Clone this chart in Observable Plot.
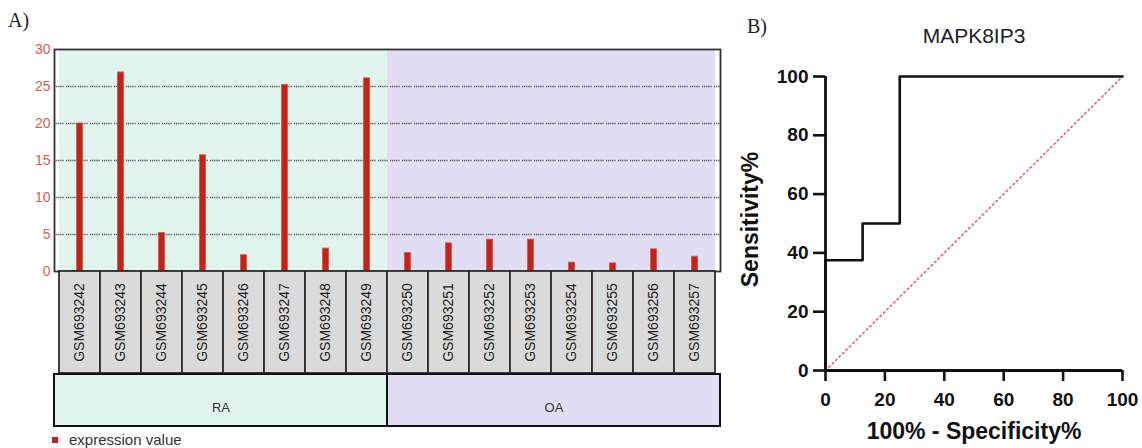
<!DOCTYPE html>
<html><head><meta charset="utf-8">
<script src="https://cdn.jsdelivr.net/npm/d3@7"></script>
<script src="https://cdn.jsdelivr.net/npm/@observablehq/plot@0.6"></script>
<style>
body{margin:0;background:#fff;}
#wrap{position:relative;width:1142px;height:448px;overflow:hidden;font-family:Arial,"Liberation Sans",sans-serif;}
#wrap > *{position:absolute;}
.panel{font-family:"Liberation Serif","DejaVu Serif",serif;font-size:20px;color:#222;}
</style></head><body><div id="wrap"></div>
<script>
// ---- Data: panel A ----
const samples = ["GSM693242","GSM693243","GSM693244","GSM693245","GSM693246","GSM693247","GSM693248","GSM693249",
                 "GSM693250","GSM693251","GSM693252","GSM693253","GSM693254","GSM693255","GSM693256","GSM693257"];
const values = [20.0, 26.9, 5.2, 15.7, 2.2, 25.2, 3.1, 26.1,
                2.5, 3.8, 4.3, 4.3, 1.2, 1.1, 3.0, 2.0];
const sampleGroups = ["RA","RA","RA","RA","RA","RA","RA","RA","OA","OA","OA","OA","OA","OA","OA","OA"];
const groupNames = ["RA","OA"];
const groupColors = ["#e2f4ee","#e1def4"];
const yTicks = [0,5,10,15,20,25,30];
const gridTicks = [5,10,15,20,25];
const legendLabel = "expression value";
// ---- Data: panel B ----
const rocTitle = "MAPK8IP3";
const rocFPR = [0, 0, 12.5, 12.5, 25, 25, 100];
const rocTPR = [0, 37.5, 37.5, 50, 50, 100, 100];
const diagX = [0, 100];
const diagY = [0, 100];
const rocTicks = [0,20,40,60,80,100];
const xTitle = "100% - Specificity%";
const yTitle = "Sensitivity%";

const rows = samples.map((s,i)=>({sample:s, value:values[i], group:sampleGroups[i]}));
const colorOf = g => groupColors[groupNames.indexOf(g)];
const wrap = document.getElementById("wrap");
const barRed = "#c1241b";
const sans = "Arial, 'Liberation Sans', sans-serif";

function place(el, left, top){ el.style.left = left+"px"; el.style.top = top+"px"; wrap.appendChild(el); return el; }

// Main bar chart
const main = Plot.plot({
  width: 730, height: 272,
  marginLeft: 54, marginRight: 10, marginTop: 49, marginBottom: 1,
  style: {fontFamily: sans, fontSize: "14px", color: "#d4604e", background: "transparent", overflow: "visible"},
  x: {domain: samples, padding: 0, axis: null},
  y: {domain: [0,30]},
  marks: [
    Plot.cell(rows, {x: "sample", fill: d => colorOf(d.group), inset: 0}),
    Plot.ruleY(gridTicks, {stroke: "#555", strokeWidth: 1.3, strokeDasharray: "1.2,0.9,1.2,0.9,1.2,0.9,1.2,0.9,1.2,2.4"}),
    Plot.barY(rows, {x: "sample", y: "value", fill: barRed, stroke: "#e2533f", strokeWidth: 0.8, insetLeft: 17.5, insetRight: 17.5}),
    Plot.axisY({ticks: yTicks, tickSize: 0, tickPadding: 4, label: null}),
    Plot.frame({stroke: "#333", strokeWidth: 1.8})
  ]
});
place(main, 0, 0);

// Sample label row
const labelsRow = Plot.plot({
  width: 730, height: 103,
  marginLeft: 54, marginRight: 10, marginTop: 0, marginBottom: 1,
  style: {fontFamily: sans, fontSize: "14px", background: "transparent", overflow: "visible"},
  x: {domain: samples, padding: 0, axis: null},
  marks: [
    Plot.cell(rows, {x: "sample", fill: "#dadada", stroke: "#2e2e2e", strokeWidth: 1.8, inset: 0}),
    Plot.text(rows, {x: "sample", text: "sample", rotate: -90, frameAnchor: "middle", fill: "#222", fontSize: 14})
  ]
});
place(labelsRow, 0, 271);

// Group row
const groupRows = groupNames.map((g,i)=>({group:g, color:groupColors[i]}));
const groupRow = Plot.plot({
  width: 730, height: 54,
  marginLeft: 54, marginRight: 10, marginTop: 1, marginBottom: 1,
  style: {fontFamily: sans, fontSize: "13px", background: "transparent", overflow: "visible"},
  x: {domain: groupNames, padding: 0, axis: null},
  marks: [
    Plot.cell(groupRows, {x: "group", fill: "color", stroke: "#111", strokeWidth: 2, inset: 0}),
    Plot.text(groupRows, {x: "group", text: "group", frameAnchor: "middle", dy: 7, fill: "#333", fontSize: 13})
  ]
});
place(groupRow, 0, 373);

// Legend
const leg = document.createElement("div");
leg.style.cssText = "font-size:15px;color:#333;display:flex;align-items:center;gap:11px;line-height:16px;";
leg.innerHTML = `<span style="display:inline-block;width:6px;height:6px;background:${barRed}"></span><span>${legendLabel}</span>`;
place(leg, 52, 432);

// Panel labels
const la = document.createElement("div"); la.className = "panel"; la.textContent = "A)"; place(la, 8, 9);
const lb = document.createElement("div"); lb.className = "panel"; lb.textContent = "B)"; place(lb, 747, 15);

// ROC plot
const roc = Plot.plot({
  width: 412, height: 448,
  marginLeft: 95, marginRight: 20, marginTop: 76, marginBottom: 78,
  style: {fontFamily: sans, fontSize: "19px", fontWeight: "bold", color: "#111", background: "transparent", overflow: "visible"},
  x: {domain: [0,100]},
  y: {domain: [0,100]},
  marks: [
    Plot.line(diagX.map((x,i)=>({x, y: diagY[i]})), {x: "x", y: "y", stroke: "#e0606e", strokeWidth: 1.6, strokeDasharray: "1.6,3.2"}),
    Plot.line(rocFPR.map((x,i)=>({x, y: rocTPR[i]})), {x: "x", y: "y", stroke: "#111", strokeWidth: 2.6}),
    Plot.ruleX([0], {stroke: "#111", strokeWidth: 2.8}),
    Plot.ruleY([0], {stroke: "#111", strokeWidth: 2.8}),
    Plot.axisY({ticks: rocTicks, tickSize: 12, tickPadding: 5, strokeWidth: 2.6, label: null}),
    Plot.axisX({ticks: rocTicks, tickSize: 11, tickPadding: 11, strokeWidth: 2.6, label: null}),
    Plot.text([xTitle], {frameAnchor: "bottom", dy: 68, fontSize: 23, fontWeight: "bold", fill: "#111"}),
    Plot.text([yTitle], {frameAnchor: "left", textAnchor: "middle", dx: -75, dy: -4, rotate: -90, fontSize: 23, fontWeight: "bold", fill: "#111"}),
    Plot.text([rocTitle], {frameAnchor: "top", dy: -48, fontSize: 21, fontWeight: "normal", fill: "#222"})
  ]
});
place(roc, 730, 0);
</script></body></html>
